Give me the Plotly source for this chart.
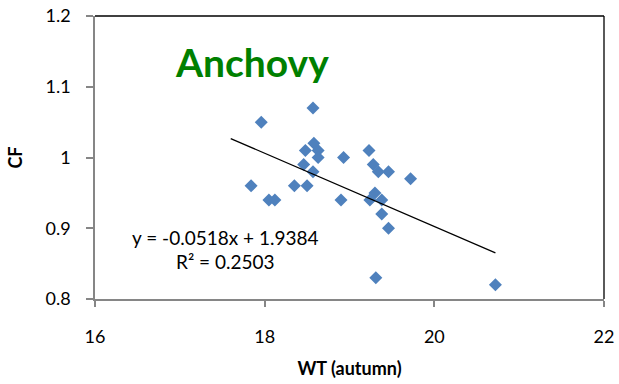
import plotly.graph_objects as go

# Data
wt_autumn = [18.57, 17.96, 18.58, 18.48, 18.63, 18.63, 18.93, 19.23, 18.46, 19.28,
             18.57, 19.34, 19.46, 19.72, 17.84, 18.35, 18.50, 18.05, 18.12, 18.90,
             19.24, 19.30, 19.38, 19.38, 19.46, 19.31, 20.72]
cf = [1.07, 1.05, 1.02, 1.01, 1.01, 1.00, 1.00, 1.01, 0.99, 0.99,
      0.98, 0.98, 0.98, 0.97, 0.96, 0.96, 0.96, 0.94, 0.94, 0.94,
      0.94, 0.95, 0.94, 0.92, 0.90, 0.83, 0.82]

slope = -0.0518
intercept = 1.9384
r_squared = 0.2503
trend_x = [17.60, 20.72]
trend_y = [slope * x + intercept for x in trend_x]

x_ticks = [16, 18, 20, 22]
y_ticks = [0.8, 0.9, 1.0, 1.1, 1.2]

FONT = "Lato"

fig = go.Figure()
fig.add_trace(go.Scatter(
    x=wt_autumn, y=cf, mode="markers",
    marker=dict(symbol="diamond", size=10, color="#4F81BD", line=dict(width=0)),
    showlegend=False, hoverinfo="x+y"))
fig.add_trace(go.Scatter(
    x=trend_x, y=trend_y, mode="lines",
    line=dict(color="black", width=1.3), showlegend=False))

fig.update_layout(
    width=619, height=384,
    margin=dict(l=94.5, r=14.5, t=16, b=85, autoexpand=False),
    paper_bgcolor="white", plot_bgcolor="white",
    font=dict(family=FONT, size=18, color="black"),
    xaxis=dict(range=[16, 22], tickvals=x_ticks, ticktext=[str(v) for v in x_ticks],
               showgrid=False, zeroline=False, showline=True, linecolor="#868686",
               linewidth=1.5, ticks="outside", ticklen=6, tickcolor="#868686",
               tickwidth=1.5, ticklabelstandoff=15, automargin=False,
               title=dict(text="<b>WT (autumn)</b>", font=dict(size=18), standoff=16)),
    yaxis=dict(range=[0.8, 1.2], tickvals=y_ticks, ticktext=["0.8", "0.9", "1", "1.1", "1.2"],
               showgrid=False, zeroline=False, showline=True, linecolor="#868686",
               linewidth=1.5, ticks="outside", ticklen=7, tickcolor="#868686",
               tickwidth=1.5, ticklabelstandoff=12, automargin=False,
               title=dict(text="<b>CF</b>", font=dict(size=18), standoff=18)),
    shapes=[
        dict(type="line", xref="paper", yref="paper", x0=0, x1=1, y0=1, y1=1,
             line=dict(color="black", width=1.3)),
        dict(type="line", xref="paper", yref="paper", x0=1, x1=1, y0=0, y1=1,
             line=dict(color="black", width=1.3)),
    ],
    annotations=[
        dict(text="<b>Anchovy</b>", xref="paper", yref="paper", x=0.309, y=0.837,
             showarrow=False, font=dict(family=FONT, size=39, color="#008000"),
             xanchor="center", yanchor="middle"),
        dict(text=f"y = {slope}x + {intercept}", xref="paper", yref="paper",
             x=0.256, y=0.219, showarrow=False, font=dict(size=19),
             xanchor="center", yanchor="middle"),
        dict(text=f"R² = {r_squared}", xref="paper", yref="paper",
             x=0.256, y=0.131, showarrow=False, font=dict(size=19),
             xanchor="center", yanchor="middle"),
    ],
)

fig.write_html("out.html")
